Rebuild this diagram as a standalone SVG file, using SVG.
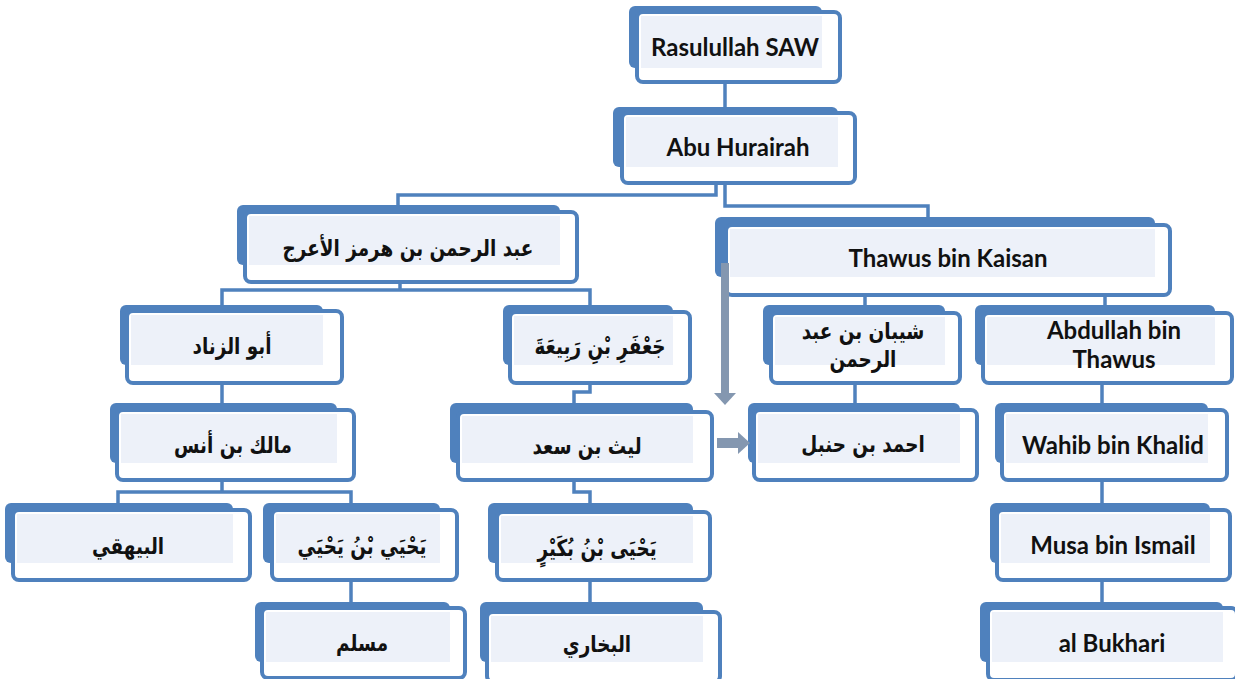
<svg xmlns="http://www.w3.org/2000/svg" width="1235" height="679" viewBox="0 0 1235 679">
<style>
.bk{fill:#4f81bd}
.fr{fill:#ffffff;stroke:#4f81bd;stroke-width:4}
.in{fill:#edf1f9}
.lt{font-family:Lato,"Open Sans",sans-serif;font-weight:bold;font-size:24px;fill:#111;text-anchor:middle}
.ar{font-family:"DejaVu Sans",sans-serif;font-weight:bold;font-size:23px;fill:#111;text-anchor:middle}
.cn{fill:none;stroke:#4f81bd;stroke-width:3.5}
.ga{fill:#8497b0}
</style>
<rect width="1235" height="679" fill="#ffffff"/>
<g id="connectors">
<path class="cn" d="M725,82 V107"/>
<path class="cn" d="M716,183 V195 H398 V205"/>
<path class="cn" d="M725,183 V206 H928 V217"/>
<path class="cn" d="M400,282 V290"/>
<path class="cn" d="M222,305 V290 H590 V305"/>
<path class="cn" d="M222,383 V403"/>
<path class="cn" d="M590,383 V392 H574 V403"/>
<path class="cn" d="M222,480 V492"/>
<path class="cn" d="M118,503 V492 H351 V503"/>
<path class="cn" d="M351,580 V602"/>
<path class="cn" d="M574,480 V492 H590 V503"/>
<path class="cn" d="M590,580 V602"/>
<path class="cn" d="M865,295 V305"/>
<path class="cn" d="M1105,295 V305"/>
<path class="cn" d="M855,383 V403"/>
<path class="cn" d="M1102,383 V403"/>
<path class="cn" d="M1102,480 V503"/>
<path class="cn" d="M1102,580 V602"/>
</g>
<g id="rasul"><rect class="bk" x="629" y="6" width="193" height="62" rx="6"/><rect class="fr" x="637" y="12" width="203" height="70" rx="6"/><rect class="in" x="641" y="16" width="181" height="52"/><text class="lt" x="735" y="56">Rasulullah SAW</text></g>
<g id="abu"><rect class="bk" x="613" y="107" width="225" height="60" rx="6"/><rect class="fr" x="622" y="113" width="233" height="70" rx="6"/><rect class="in" x="626" y="117" width="212" height="50"/><text class="lt" x="738" y="156">Abu Hurairah</text></g>
<g id="abdrahman"><rect class="bk" x="237" y="205" width="323" height="60" rx="6"/><rect class="fr" x="245" y="212" width="332" height="70" rx="6"/><rect class="in" x="249" y="216" width="311" height="49"/><text class="ar" transform="translate(408,256) scale(0.8,1)">عبد الرحمن بن هرمز الأعرج</text></g>
<g id="thawus"><rect class="bk" x="715" y="217" width="440" height="60" rx="6"/><rect class="fr" x="726" y="225" width="444" height="70" rx="6"/><rect class="in" x="730" y="229" width="425" height="48"/><text class="lt" x="948" y="267">Thawus bin Kaisan</text></g>
<g id="abuzinad"><rect class="bk" x="120" y="305" width="203" height="60" rx="6"/><rect class="fr" x="127" y="311" width="215" height="72" rx="6"/><rect class="in" x="131" y="315" width="192" height="50"/><text class="ar" transform="translate(232,354) scale(0.8,1)">أبو الزناد</text></g>
<g id="jafar"><rect class="bk" x="503" y="305" width="170" height="60" rx="6"/><rect class="fr" x="510" y="312" width="180" height="71" rx="6"/><rect class="in" x="514" y="316" width="159" height="49"/><text class="ar" transform="translate(600,354) scale(0.8,1)">جَعْفَرِ بْنِ رَبِيعَةَ</text></g>
<g id="shayban"><rect class="bk" x="763" y="305" width="182" height="60" rx="6"/><rect class="fr" x="771" y="313" width="189" height="70" rx="6"/><rect class="in" x="775" y="317" width="170" height="48"/><text class="ar" transform="translate(863,339) scale(0.8,1)">شيبان بن عبد</text><text class="ar" transform="translate(863,367) scale(0.8,1)">الرحمن</text></g>
<g id="abdullah"><rect class="bk" x="975" y="305" width="240" height="60" rx="6"/><rect class="fr" x="983" y="313" width="249" height="70" rx="6"/><rect class="in" x="987" y="317" width="228" height="48"/><text class="lt" x="1114" y="339">Abdullah bin</text><text class="lt" x="1114" y="368">Thawus</text></g>
<g id="malik"><rect class="bk" x="110" y="403" width="227" height="60" rx="6"/><rect class="fr" x="117" y="410" width="237" height="70" rx="6"/><rect class="in" x="121" y="414" width="216" height="49"/><text class="ar" transform="translate(233,453) scale(0.8,1)">مالك بن أنس</text></g>
<g id="layth"><rect class="bk" x="450" y="403" width="243" height="60" rx="6"/><rect class="fr" x="458" y="412" width="254" height="68" rx="6"/><rect class="in" x="462" y="416" width="231" height="47"/><text class="ar" transform="translate(587,454) scale(0.8,1)">ليث بن سعد</text></g>
<g id="ahmad"><rect class="bk" x="748" y="403" width="212" height="60" rx="6"/><rect class="fr" x="754" y="410" width="223" height="70" rx="6"/><rect class="in" x="758" y="414" width="202" height="49"/><text class="ar" transform="translate(863,452) scale(0.8,1)">احمد بن حنبل</text></g>
<g id="wahib"><rect class="bk" x="995" y="403" width="213" height="60" rx="6"/><rect class="fr" x="1002" y="410" width="225" height="70" rx="6"/><rect class="in" x="1006" y="414" width="202" height="49"/><text class="lt" x="1113" y="454">Wahib bin Khalid</text></g>
<g id="bayhaqi"><rect class="bk" x="5" y="503" width="228" height="60" rx="6"/><rect class="fr" x="13" y="510" width="237" height="70" rx="6"/><rect class="in" x="17" y="514" width="216" height="49"/><text class="ar" transform="translate(128,554) scale(0.8,1)">البيهقي</text></g>
<g id="yahya1"><rect class="bk" x="263" y="503" width="177" height="60" rx="6"/><rect class="fr" x="272" y="510" width="185" height="70" rx="6"/><rect class="in" x="276" y="514" width="164" height="49"/><text class="ar" transform="translate(362,554) scale(0.8,1)">يَحْيَي بْنُ يَحْيَي</text></g>
<g id="yahya2"><rect class="bk" x="488" y="503" width="205" height="60" rx="6"/><rect class="fr" x="497" y="512" width="213" height="68" rx="6"/><rect class="in" x="501" y="516" width="192" height="47"/><text class="ar" transform="translate(597,556) scale(0.8,1)">يَحْيَى بْنُ بُكَيْرٍ</text></g>
<g id="musa"><rect class="bk" x="990" y="503" width="220" height="60" rx="6"/><rect class="fr" x="997" y="510" width="233" height="70" rx="6"/><rect class="in" x="1001" y="514" width="209" height="49"/><text class="lt" x="1113" y="554">Musa bin Ismail</text></g>
<g id="muslim"><rect class="bk" x="255" y="602" width="195" height="60" rx="6"/><rect class="fr" x="262" y="608" width="203" height="70" rx="6"/><rect class="in" x="266" y="612" width="184" height="50"/><text class="ar" transform="translate(362,651) scale(0.8,1)">مسلم</text></g>
<g id="bukhari-ar"><rect class="bk" x="480" y="602" width="223" height="60" rx="6"/><rect class="fr" x="487" y="612" width="233" height="70" rx="6"/><rect class="in" x="491" y="616" width="212" height="46"/><text class="ar" transform="translate(597,652) scale(0.8,1)">البخاري</text></g>
<g id="albukhari"><rect class="bk" x="980" y="602" width="243" height="60" rx="6"/><rect class="fr" x="988" y="608" width="249" height="72" rx="6"/><rect class="in" x="992" y="612" width="231" height="50"/><text class="lt" x="1112" y="652">al Bukhari</text></g>
<g id="arrows">
<rect class="ga" x="721" y="263" width="8" height="131"/>
<polygon class="ga" points="714,393 736,393 725,405"/>
<rect class="ga" x="717" y="438" width="22" height="10"/>
<polygon class="ga" points="738,432 738,454 750,443"/>
</g>
</svg>
